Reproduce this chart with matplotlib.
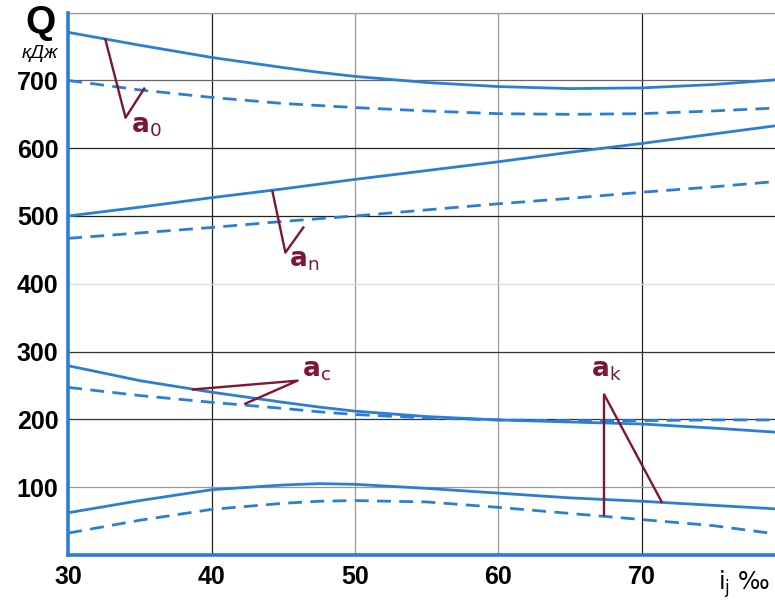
import matplotlib
matplotlib.use("Agg")
import matplotlib.pyplot as plt

# ---- data ----
x_vals = [30, 35, 40, 45, 47.5, 50, 55, 60, 65, 70, 75, 80]
a0_solid = [771, 752, 734, 719, 712, 706, 697, 691, 688, 689, 694, 702]
a0_dash = [700, 686, 675, 666, 663, 660, 655, 651, 650, 651, 655, 660]
an_solid = [500, 513, 527, 540, 547, 554, 567, 580, 594, 607, 621, 635]
an_dash = [467, 475, 483, 492, 496, 500, 509, 518, 526, 535, 543, 552]
ac_solid = [279, 257, 240, 225, 218, 212, 204, 199, 196, 193, 187, 180]
ac_dash = [247, 235, 225, 216, 211, 207, 202, 199, 198, 198, 199, 199]
ak_solid = [62, 80, 96, 103, 105, 104, 98, 91, 84, 79, 73, 67]
ak_dash = [32, 51, 67, 76, 79, 80, 78, 70, 61, 52, 43, 29]

x_ticks = [30, 40, 50, 60, 70]
x_tick_labels = ["30", "40", "50", "60", "70"]
y_ticks = [100, 200, 300, 400, 500, 600, 700]
y_tick_labels = ["100", "200", "300", "400", "500", "600", "700"]

BLUE = "#2a7fd4"
MAROON = "#7d1630"

fig = plt.figure(figsize=(7.75, 6.05), dpi=100)
ax = fig.add_axes([0.088, 0.083, 0.912, 0.896])
ax.set_xlim(30, 79.3)
ax.set_ylim(0, 800)

# grid lines
vgrid = {40: "#222222", 50: "#999999", 60: "#999999", 70: "#222222"}
for xv, c in vgrid.items():
    ax.axvline(xv, color=c, lw=0.9, zorder=1)
hgrid = {100: "#999999", 200: "#333333", 300: "#333333", 400: "#dddddd",
         500: "#222222", 600: "#222222", 700: "#666666", 800: "#999999"}
for yv, c in hgrid.items():
    ax.axhline(yv, color=c, lw=0.9, zorder=1)

lw = 2.0
dash = (0, (5, 3))
ax.plot(x_vals, a0_solid, color=BLUE, lw=lw, zorder=3)
ax.plot(x_vals, a0_dash, color=BLUE, lw=lw, ls=dash, zorder=3)
ax.plot(x_vals, an_solid, color=BLUE, lw=lw, zorder=3)
ax.plot(x_vals, an_dash, color=BLUE, lw=lw, ls=dash, zorder=3)
ax.plot(x_vals, ac_solid, color=BLUE, lw=lw, zorder=3)
ax.plot(x_vals, ac_dash, color=BLUE, lw=lw, ls=dash, zorder=3)
ax.plot(x_vals, ak_solid, color=BLUE, lw=lw, zorder=3)
ax.plot(x_vals, ak_dash, color=BLUE, lw=lw, ls=dash, zorder=3)

# annotation leaders
alw = 1.7
ax.plot([32.6, 34.0, 35.3], [760, 645, 688], color=MAROON, lw=alw, zorder=4)
ax.plot([44.25, 45.15, 46.4], [536, 446, 483], color=MAROON, lw=alw, zorder=4)
ax.plot([38.7, 46.0, 42.35], [244, 257, 223], color=MAROON, lw=alw, zorder=4)
ax.plot([67.4, 67.4], [236, 58], color=MAROON, lw=alw, zorder=4)
ax.plot([67.4, 71.4], [236, 78], color=MAROON, lw=alw, zorder=4)

lab_kw = dict(color=MAROON, fontsize=19, ha="left", va="center", zorder=5)
ax.text(34.4, 633, r"$\mathbf{a}_{\mathsf{0}}$", **lab_kw)
ax.text(45.4, 435, r"$\mathbf{a}_{\mathsf{n}}$", **lab_kw)
ax.text(46.3, 273, r"$\mathbf{a}_{\mathsf{c}}$", **lab_kw)
ax.text(66.5, 272, r"$\mathbf{a}_{\mathsf{k}}$", **lab_kw)

# spines
ax.spines["right"].set_visible(False)
ax.spines["top"].set_color("#999999")
ax.spines["top"].set_linewidth(0.9)
ax.spines["left"].set_color(BLUE)
ax.spines["bottom"].set_color(BLUE)
ax.spines["left"].set_linewidth(2.6)
ax.spines["bottom"].set_linewidth(2.6)
ax.spines["left"].set_zorder(6)
ax.spines["bottom"].set_zorder(6)

tick_font = dict(family="Liberation Sans", weight="bold", size=18)
ax.set_xticks(x_ticks)
ax.set_xticklabels(x_tick_labels, fontdict=tick_font)
ax.set_yticks(y_ticks)
ax.set_yticklabels(y_tick_labels, fontdict=tick_font)
ax.tick_params(length=0, pad=7)

fig.text(0.052, 0.962, "Q", family="Liberation Sans", weight="bold", size=28,
         ha="center", va="center")
fig.text(0.052, 0.912, "кДж", family="Liberation Sans", style="italic", size=14,
         ha="center", va="center")
fig.text(0.994, 0.034, r"$\mathrm{i_j}$ ‰", family="DejaVu Sans", size=17,
         ha="right", va="center")

fig.savefig("out.png", dpi=100)
